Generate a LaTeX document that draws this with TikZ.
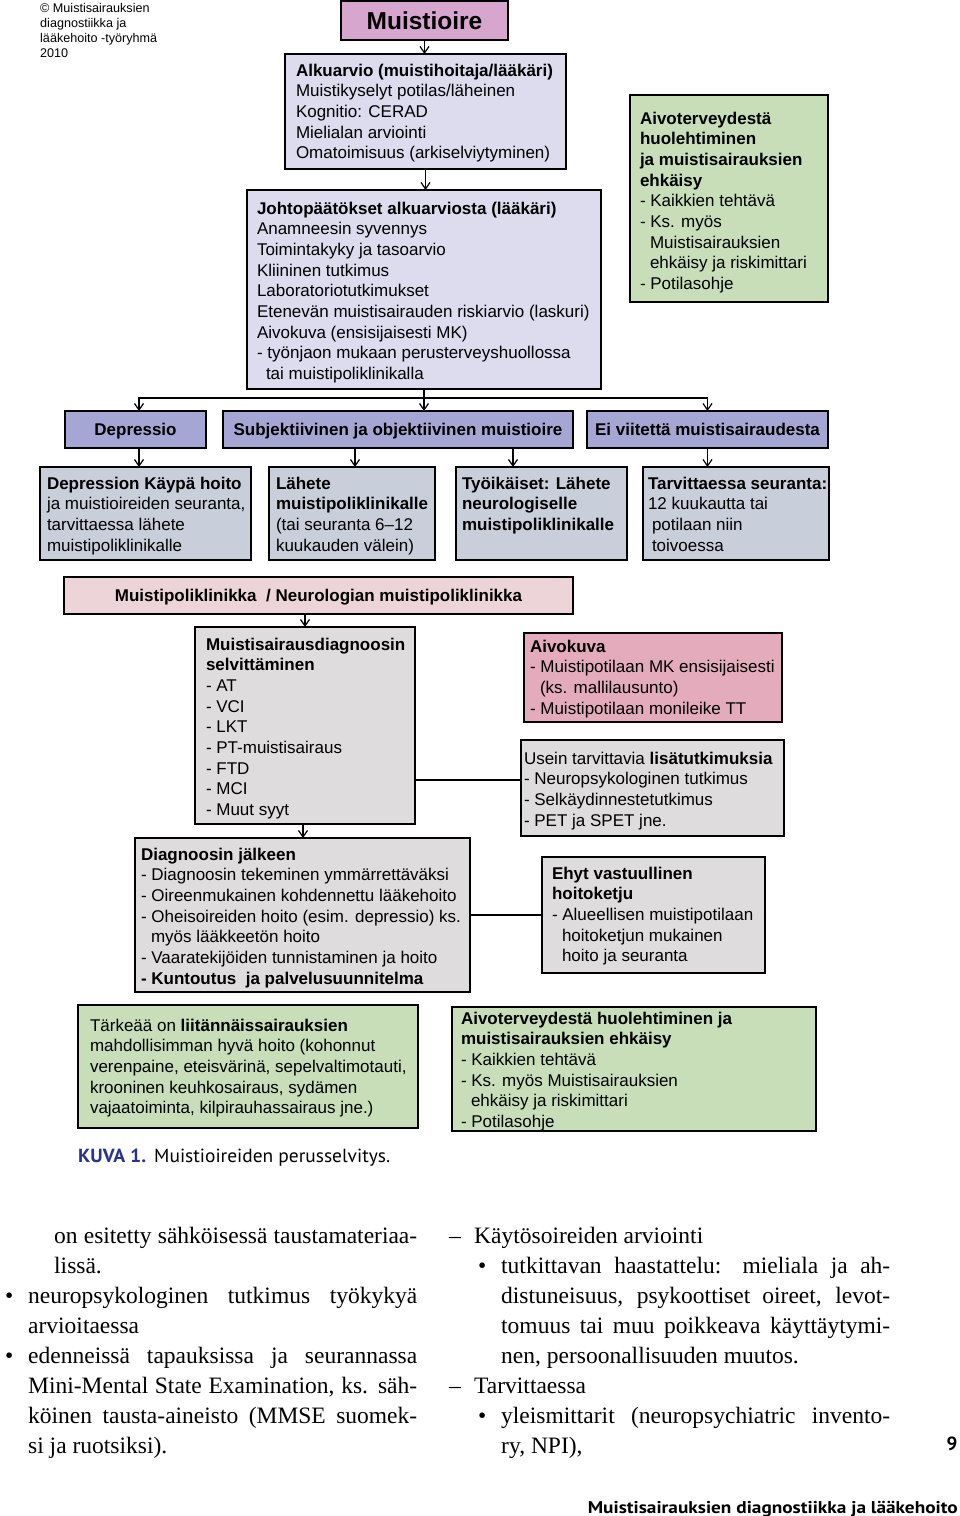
\documentclass[tikz,border=0pt]{standalone}
\usepackage{fontspec}
\usepackage{graphicx}
\setmainfont{Liberation Sans}
\newfontfamily\serifbody{Liberation Serif}
\newfontfamily\capfont{PT Sans}
\usetikzlibrary{arrows.meta,calc}
\definecolor{cTitle}{RGB}{214,166,206}
\definecolor{cLav}{RGB}{221,219,238}
\definecolor{cGreen}{RGB}{199,222,184}
\definecolor{cPeri}{RGB}{166,166,212}
\definecolor{cBlueGrey}{RGB}{200,206,218}
\definecolor{cLPink}{RGB}{236,212,217}
\definecolor{cGrey}{RGB}{222,220,220}
\definecolor{cPink}{RGB}{227,171,187}
\definecolor{capblue}{RGB}{40,52,140}
\newcommand\tb[5]{\parbox[c][#2pt][t]{#1pt}{\fontsize{17}{20.7}\selectfont\rule{0pt}{#4pt}\hspace*{#3pt}\begin{tabular}[t]{@{}l@{}}#5\end{tabular}}}
\tikzset{
  bx/.style={draw=black, line width=1.6pt, inner sep=0pt, outer sep=0pt, anchor=north west},
  cb/.style={draw=black, line width=1.6pt, inner sep=0pt, outer sep=0pt, anchor=north west, text height=12.2pt, text depth=0pt, font=\fontsize{17}{20.7}\selectfont\bfseries},
  arr/.style={line width=1.2pt, -{Straight Barb[length=6.5pt,width=9pt,line width=1.2pt]}},
  ln/.style={line width=1.2pt},
  body/.style={anchor=base west, inner sep=0pt, font=\serifbody\fontsize{23.5}{30}\selectfont},
}
\begin{document}
\begin{tikzpicture}[x=1pt,y=-1pt]
\useasboundingbox (0,0) rectangle (960,1516);
\fill[white] (0,0) rectangle (960,1516);

% top-left credit
\node[anchor=base west, inner sep=0pt, font=\fontsize{12.6}{15}\selectfont] (credit) at (40,12.5)
  {\begin{tabular}[t]{@{}l@{}}© Muistisairauksien\\diagnostiikka ja\\lääkehoito -työryhmä\\2010\end{tabular}};

% title
\node[cb, fill=cTitle, minimum width=167pt, minimum height=39pt, text height=17.6pt, font=\fontsize{24.5}{28}\selectfont\bfseries] (title) at (341,1) {Muistioire};

\node[bx, fill=cLav] (alk) at (285,54) {\tb{281}{115}{11}{22}{%
\textbf{Alkuarvio (muistihoitaja/lääkäri)}\\
Muistikyselyt potilas/läheinen\\
Kognitio: CERAD\\
Mielialan arviointi\\
Omatoimisuus (arkiselviytyminen)}};

\node[bx, fill=cLav] (jp) at (247,190) {\tb{354}{199}{10}{24}{%
\textbf{Johtopäätökset alkuarviosta (lääkäri)}\\
Anamneesin syvennys\\
Toimintakyky ja tasoarvio\\
Kliininen tutkimus\\
Laboratoriotutkimukset\\
Etenevän muistisairauden riskiarvio (laskuri)\\
Aivokuva (ensisijaisesti MK)\\
- työnjaon mukaan perusterveyshuollossa\\
\hspace*{9pt}tai muistipoliklinikalla}};

\node[bx, fill=cGreen] (grn) at (630,95) {\tb{198}{207}{10}{29}{%
\textbf{Aivoterveydestä}\\
\textbf{huolehtiminen}\\
\textbf{ja muistisairauksien}\\
\textbf{ehkäisy}\\
- Kaikkien tehtävä\\
- Ks. myös\\
\hspace*{10pt}Muistisairauksien\\
\hspace*{10pt}ehkäisy ja riskimittari\\
- Potilasohje}};

% second level
\node[cb, fill=cPeri, minimum width=141pt, minimum height=37pt] (dep) at (65,411) {Depressio};
\node[cb, fill=cPeri, minimum width=350pt, minimum height=37pt] (subj) at (223,411) {Subjektiivinen ja objektiivinen muistioire};
\node[cb, fill=cPeri, minimum width=241pt, minimum height=37pt] (ei) at (587,411) {Ei viitettä muistisairaudesta};

% third level
\node[bx, fill=cBlueGrey] (kay) at (40,467) {\tb{211}{93}{7}{22}{%
\textbf{Depression Käypä hoito}\\
ja muistioireiden seuranta,\\
tarvittaessa lähete\\
muistipoliklinikalle}};
\node[bx, fill=cBlueGrey] (lah) at (269,467) {\tb{166}{93}{7}{22}{%
\textbf{Lähete}\\
\textbf{muistipoliklinikalle}\\
(tai seuranta 6–12\\
kuukauden välein)}};
\node[bx, fill=cBlueGrey] (tyo) at (456,467) {\tb{171}{93}{6}{22}{%
\textbf{Työikäiset: Lähete}\\
\textbf{neurologiselle}\\
\textbf{muistipoliklinikalle}}};
\node[bx, fill=cBlueGrey] (tar) at (643,467) {\tb{186}{93}{5}{22}{%
\textbf{Tarvittaessa seuranta:}\\
12 kuukautta tai\\
\hspace*{4pt}potilaan niin\\
\hspace*{4pt}toivoessa}};

% clinic
\node[cb, fill=cLPink, minimum width=509pt, minimum height=37pt] (mpk) at (64,577) {Muistipoliklinikka\ \ / Neurologian muistipoliklinikka};

\node[bx, fill=cGrey] (msd) at (195,627) {\tb{220}{197}{11}{23}{%
\textbf{Muistisairausdiagnoosin}\\
\textbf{selvittäminen}\\
- AT\\
- VCI\\
- LKT\\
- PT-muistisairaus\\
- FTD\\
- MCI\\
- Muut syyt}};

\node[bx, fill=cPink] (aiv) at (524,633) {\tb{258}{89}{6}{19}{%
\textbf{Aivokuva}\\
- Muistipotilaan MK ensisijaisesti\\
\hspace*{10pt}(ks. mallilausunto)\\
- Muistipotilaan monileike TT}};

\node[bx, fill=cGrey] (use) at (521,740) {\tb{263}{96}{3}{24}{%
Usein tarvittavia \textbf{lisätutkimuksia}\\
- Neuropsykologinen tutkimus\\
- Selkäydinnestetutkimus\\
- PET ja SPET jne.}};

\node[bx, fill=cGrey] (dj) at (135,838) {\tb{335}{154}{6}{22}{%
\textbf{Diagnoosin jälkeen}\\
- Diagnoosin tekeminen ymmärrettäväksi\\
- Oireenmukainen kohdennettu lääkehoito\\
- Oheisoireiden hoito (esim. depressio) ks.\\
\hspace*{10pt}myös lääkkeetön hoito\\
- Vaaratekijöiden tunnistaminen ja hoito\\
\textbf{- Kuntoutus\ \ ja palvelusuunnitelma}}};

\node[bx, fill=cGrey] (ehy) at (542,857) {\tb{223}{116}{10}{22}{%
\textbf{Ehyt vastuullinen}\\
\textbf{hoitoketju}\\
- Alueellisen muistipotilaan\\
\hspace*{10pt}hoitoketjun mukainen\\
\hspace*{10pt}hoito ja seuranta}};

\node[bx, fill=cGreen] (tark) at (78,1005) {\tb{340}{123}{12}{26}{%
Tärkeää on \textbf{liitännäissairauksien}\\
mahdollisimman hyvä hoito (kohonnut\\
verenpaine, eteisvärinä, sepelvaltimotauti,\\
krooninen keuhkosairaus, sydämen\\
vajaatoiminta, kilpirauhassairaus jne.)}};

\node[bx, fill=cGreen] (aiv2) at (452,1007) {\tb{364}{124}{9}{17}{%
\textbf{Aivoterveydestä huolehtiminen ja}\\
\textbf{muistisairauksien ehkäisy}\\
- Kaikkien tehtävä\\
- Ks. myös Muistisairauksien\\
\hspace*{10pt}ehkäisy ja riskimittari\\
- Potilasohje}};

% connectors
\draw[arr] (title.south) -- (title.south |- alk.north);
\draw[arr] (alk.south) -- (alk.south |- jp.north);
\draw[arr] (jp.south) -- (jp.south |- subj.north);
\coordinate (spl) at ($(jp.south)+(0,9)$);
\draw[arr] (spl) -| ([xshift=3.5pt]dep.north);
\draw[arr] (spl) -| (ei.north);
\draw[arr] ([xshift=3.5pt]dep.south) -- ([xshift=3.5pt]dep.south |- kay.north);
\draw[arr] ([xshift=3pt]lah.north |- subj.south) -- ([xshift=3pt]lah.north);
\draw[arr] ([xshift=-28.5pt]tyo.north |- subj.south) -- ([xshift=-28.5pt]tyo.north);
\draw[arr] (ei.south) -- (ei.south |- tar.north);
\draw[arr] (msd.north |- mpk.south) -- (msd.north);
\draw[arr] ([xshift=-2pt]msd.south) -- ([xshift=-2pt]msd.south |- dj.north);
\draw[ln] ([yshift=-54.5pt]msd.east) -- ([yshift=-54.5pt]msd.east -| use.west);
\draw[ln] (dj.east) -- (dj.east -| ehy.west);

% caption
\node[anchor=base west, inner sep=0pt, font=\capfont\fontsize{19}{22}\selectfont] (cap) at (78,1162)
  {\resizebox{68pt}{\height}{\textcolor{capblue}{\bfseries KUVA 1.}}\hspace{8pt}\resizebox{236pt}{\height}{Muistioireiden perusselvitys.}};

% body text, left column
\node[body] (l1) at (54,1243) {\makebox[363pt][s]{on esitetty sähköisessä taustamateriaa-}};
\node[body] (l2) at (54,1273) {lissä.};
\node[body] (bu1) at (5,1303) {•};
\node[body] (l3) at (28,1303) {\makebox[389pt][s]{neuropsykologinen tutkimus työkykyä}};
\node[body] (l4) at (28,1333) {arvioitaessa};
\node[body] (bu2) at (5,1363) {•};
\node[body] (l5) at (28,1363) {\makebox[389pt][s]{edenneissä tapauksissa ja seurannassa}};
\node[body] (l6) at (28,1393) {\makebox[389pt][s]{Mini-Mental State Examination, ks. säh-}};
\node[body] (l7) at (28,1423) {\makebox[389pt][s]{köinen tausta-aineisto (MMSE suomek-}};
\node[body] (l8) at (28,1453) {si ja ruotsiksi).};

% body text, right column
\node[body] (d1) at (449,1243) {–};
\node[body] (r1) at (474,1243) {Käytösoireiden arviointi};
\node[body] (bu3) at (478,1273) {•};
\node[body] (r2) at (501,1273) {\makebox[389pt][s]{tutkittavan haastattelu: mieliala ja ah-}};
\node[body] (r3) at (501,1303) {\makebox[389pt][s]{distuneisuus, psykoottiset oireet, levot-}};
\node[body] (r4) at (501,1333) {\makebox[389pt][s]{tomuus tai muu poikkeava käyttäytymi-}};
\node[body] (r5) at (501,1363) {nen, persoonallisuuden muutos.};
\node[body] (d2) at (449,1393) {–};
\node[body] (r6) at (474,1393) {Tarvittaessa};
\node[body] (bu4) at (478,1423) {•};
\node[body] (r7) at (501,1423) {\makebox[389pt][s]{yleismittarit (neuropsychiatric invento-}};
\node[body] (r8) at (501,1453) {ry, NPI),};

% page number and footer
\node[anchor=base, inner sep=0pt, font=\capfont\bfseries\fontsize{19}{22}\selectfont] (pnum) at (952,1450) {9};
\node[anchor=base east, inner sep=0pt, font=\capfont\bfseries\fontsize{17}{20}\selectfont] (foot) at (958,1513)
  {\resizebox{370pt}{\height}{Muistisairauksien diagnostiikka ja lääkehoito}};
\end{tikzpicture}
\end{document}
